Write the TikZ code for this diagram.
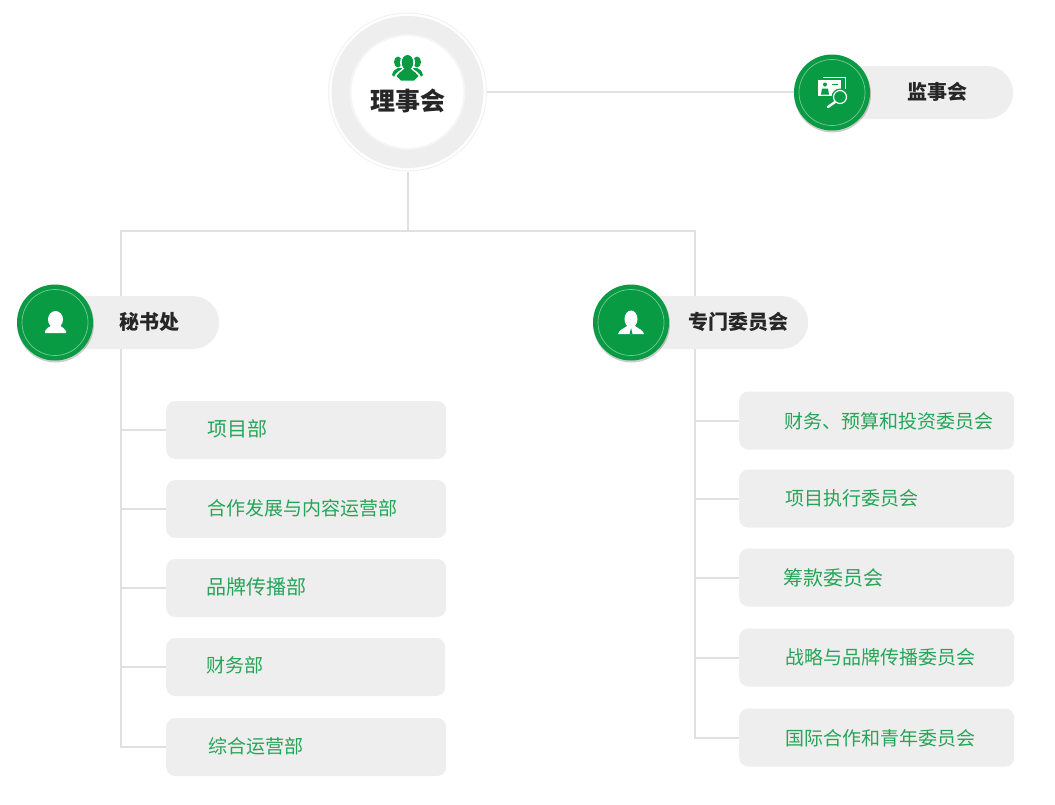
\documentclass[tikz,border=0pt]{standalone}
\usepackage{fontspec}
\usepackage{color}
\setmainfont{Noto Sans CJK SC}
\definecolor{leaf}{RGB}{9, 154, 68}
\definecolor{leaftext}{RGB}{38, 165, 88}
\definecolor{panel}{RGB}{238, 238, 238}
\definecolor{wire}{RGB}{224, 224, 224}
\definecolor{ink}{RGB}{38, 38, 38}
\tikzset{
  wirepath/.style={wire, line width=2},
  badge/.style={circle, fill=leaf, minimum size=76, inner sep=0},
  badgeshade/.style={circle, fill=black, opacity=0.2, minimum size=77, inner sep=0},
  badgering/.style={circle, draw=white!45!leaf, line width=0.7, minimum size=66, inner sep=0},
  pill/.style={fill=panel, rounded corners=26.5, minimum height=53, inner sep=0, anchor=west},
  deptbox/.style={fill=panel, rounded corners=9, minimum height=58, inner sep=0, anchor=west},
  depttext/.style={text=leaftext, font=\fontsize{20}{24}\selectfont, anchor=west, inner sep=0},
  deptsmall/.style={depttext, font=\fontsize{19}{24}\selectfont},
  pilltext/.style={text=ink, font=\fontsize{20}{24}\selectfont\bfseries, inner sep=0}
}
\begin{document}
\begin{tikzpicture}[x=1pt, y=-1pt]

  \useasboundingbox (0, 0) rectangle (1055, 804);

  % board
  \node[circle, fill=white, draw=black!5, line width=1, minimum size=158, inner sep=0] (board) at (407.5, 92) {};
  \node[circle, fill=panel, minimum size=152, inner sep=0] (boardring) at (407.5, 92) {};
  \node[circle, fill=white, draw=black!4, line width=2, minimum size=114, inner sep=0] (boardin) at (407.5, 92) {};
  \node[text=ink, font=\fontsize{25}{28}\selectfont\bfseries, inner sep=0] (boardtext) at (407.5, 100.5) {理事会};

  \fill[leaf] (398, 62) circle [x radius=4, y radius=5.5];
  \fill[leaf] (417, 62) circle [x radius=4, y radius=5.5];
  \fill[leaf] (392, 75) .. controls (393, 71) and (395, 69) .. (398, 68) -- (417, 68) .. controls (420, 69) and (422, 71) .. (423, 75) -- (417, 80) -- (398, 80) -- cycle;
  \fill[white] (407.5, 62.5) circle [x radius=7.5, y radius=9];
  \fill[white] (394, 77) .. controls (396, 72) and (400, 71) .. (403, 68) -- (412, 68) .. controls (415, 71) and (419, 72) .. (421, 77) -- (415, 82) -- (400, 82) -- cycle;
  \fill[leaf] (407.5, 62.5) circle [x radius=5.8, y radius=7.5];
  \fill[leaf] (396.5, 76) .. controls (398, 73) and (401, 72) .. (404, 69) -- (411, 69) .. controls (414, 72) and (417, 73) .. (418.5, 76) -- (414, 80.5) -- (401, 80.5) -- cycle;

  % pills
  \node[pill, minimum width=181] (supervisepill) at (832, 92.5) {};
  \node[pill, minimum width=164] (secretpill) at (55, 322.5) {};
  \node[pill, minimum width=177] (committeepill) at (631, 322.5) {};

  \coordinate (fork) at (407.5, 231);
  \coordinate (secrettop) at (120.5, 296);
  \coordinate (committeetop) at (695, 296);
  \coordinate (secretfoot) at (120.5, 349);
  \coordinate (committeefoot) at (695, 349);

  % badges
  \node[badgeshade] (superviseS) at (832.5, 94) {};
  \node[badge] (supervise) at (832, 92.5) {};
  \node[badgering] (superviseR) at (832, 92.5) {};
  \node[badgeshade] (secretS) at (55.5, 324) {};
  \node[badge] (secret) at (55, 322.5) {};
  \node[badgering] (secretR) at (55, 322.5) {};
  \node[badgeshade] (committeeS) at (631.5, 324) {};
  \node[badge] (committee) at (631, 322.5) {};
  \node[badgering] (committeeR) at (631, 322.5) {};

  \draw[wirepath] (board.east) -- (board.east -| supervise.west);
  \draw[wirepath] (board.south) -- (fork);
  \draw[wirepath] (secrettop) |- (fork);
  \draw[wirepath] (committeetop) |- (fork);

  \node[pilltext] (supervisetext) at (937.5, 92) {监事会};
  \node[pilltext] (secrettext) at (149.5, 322) {秘书处};
  \node[pilltext] (committeetext) at (738, 322) {专门委员会};

  % icons
  \fill[white] (55.5, 319.5) circle [x radius=7.5, y radius=8.5];
  \fill[white] (45, 333) -- (45, 331) .. controls (46, 328) and (49, 327.5) .. (52, 325) -- (59, 325) .. controls (62, 327.5) and (65, 328) .. (66, 331) -- (66, 333) -- cycle;

  \fill[white] (631, 319) circle [x radius=6.5, y radius=8.5];
  \fill[white] (618, 334) .. controls (619, 330) and (623, 329) .. (627, 326) -- (635, 326) .. controls (639, 329) and (643, 330) .. (644, 334) -- cycle;
  \fill[leaf] (631, 328) -- (629.5, 334) -- (632.5, 334) -- cycle;

  \draw[white, line width=0.9] (823, 77) -- (845, 77) -- (845, 89);
  \fill[white] (818, 80) rectangle (841, 96);
  \fill[leaf] (825, 84.5) circle (2);
  \fill[leaf] (821, 94.5) -- (822, 88.5) -- (828, 88.5) -- (829, 94.5) -- cycle;
  \fill[leaf] (832, 83.5) rectangle (838, 85);
  \fill[leaf] (840, 97) circle (8.5);
  \draw[white, line width=1.2] (840, 97) circle (6.5);
  \draw[white, line width=2.4, line cap=round] (835, 102) -- (828, 107);

  % left departments
  \node[deptbox, minimum width=280] (dept1) at (166, 430) {};
  \node[deptbox, minimum width=280] (dept2) at (166, 509) {};
  \node[deptbox, minimum width=280] (dept3) at (166, 588) {};
  \node[deptbox, minimum width=279] (dept4) at (166, 667) {};
  \node[deptbox, minimum width=280] (dept5) at (166, 747) {};

  \node[depttext] (dept1text) at (207, 429) {项目部};
  \node[deptsmall] (dept2text) at (207, 508.5) {合作发展与内容运营部};
  \node[depttext] (dept3text) at (206, 587) {品牌传播部};
  \node[deptsmall] (dept4text) at (206, 665) {财务部};
  \node[deptsmall] (dept5text) at (208, 746.5) {综合运营部};

  \draw[wirepath] (secretfoot) |- (dept1.west);
  \draw[wirepath] (secretfoot) |- (dept2.west);
  \draw[wirepath] (secretfoot) |- (dept3.west);
  \draw[wirepath] (secretfoot) |- (dept4.west);
  \draw[wirepath] (secretfoot) |- (dept5.west);

  % right committees
  \node[deptbox, minimum width=275] (comm1) at (739, 420.5) {};
  \node[deptbox, minimum width=275] (comm2) at (739, 498.5) {};
  \node[deptbox, minimum width=275] (comm3) at (739, 577.5) {};
  \node[deptbox, minimum width=275] (comm4) at (739, 657.5) {};
  \node[deptbox, minimum width=275] (comm5) at (739, 737.5) {};

  \node[deptsmall] (comm1text) at (784, 421) {财务、预算和投资委员会};
  \node[deptsmall] (comm2text) at (785, 498.5) {项目执行委员会};
  \node[depttext] (comm3text) at (783.5, 577.5) {筹款委员会};
  \node[deptsmall] (comm4text) at (785, 657.5) {战略与品牌传播委员会};
  \node[deptsmall] (comm5text) at (785, 738) {国际合作和青年委员会};

  \draw[wirepath] (committeefoot) |- (comm1.west);
  \draw[wirepath] (committeefoot) |- (comm2.west);
  \draw[wirepath] (committeefoot) |- (comm3.west);
  \draw[wirepath] (committeefoot) |- (comm4.west);
  \draw[wirepath] (committeefoot) |- (comm5.west);

\end{tikzpicture}
\end{document}
